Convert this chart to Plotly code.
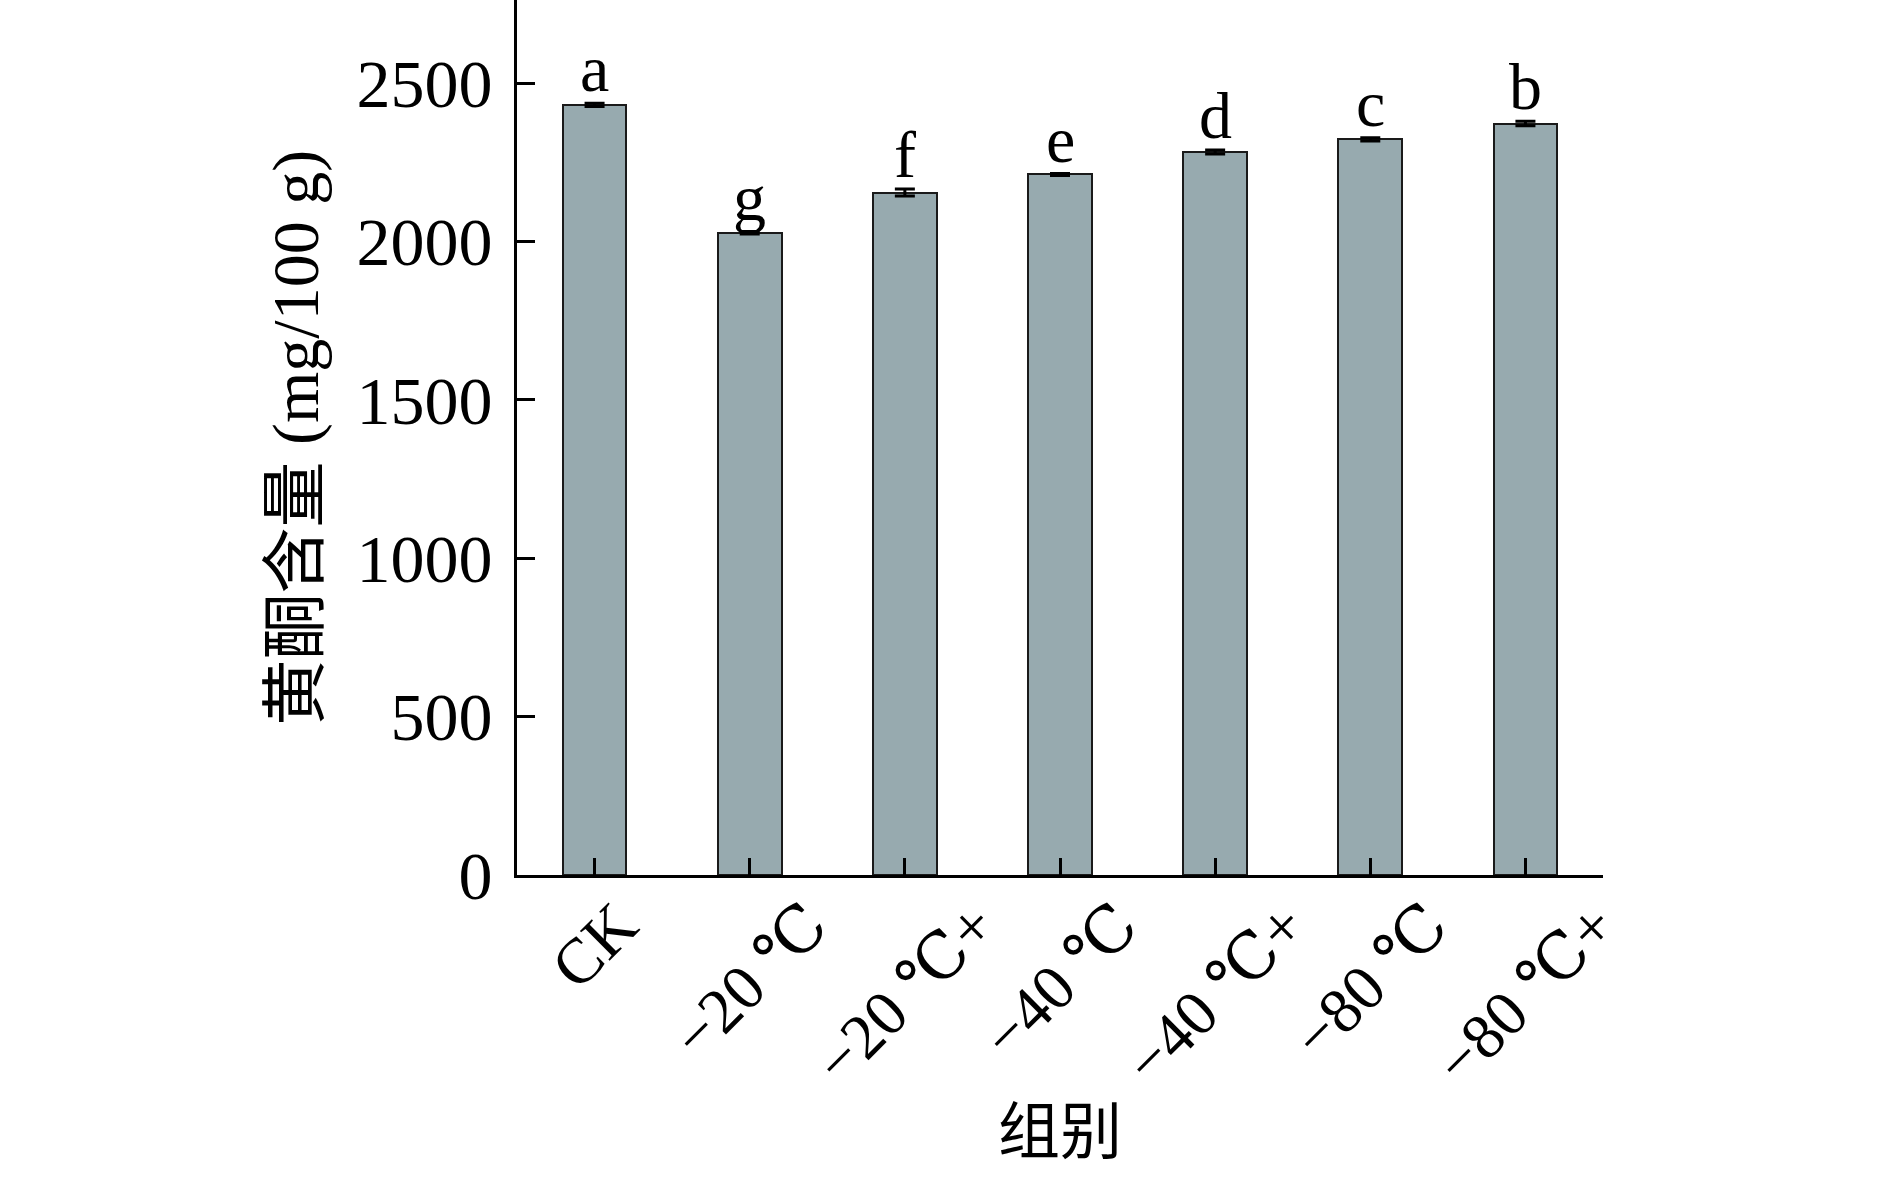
import plotly.graph_objects as go

categories = ["CK", "−20 ℃", "−20 ℃+", "−40 ℃", "−40 ℃+", "−80 ℃", "−80 ℃+"]
values = [2432, 2028, 2155, 2212, 2283, 2323, 2373]
errors = [5, 4, 11, 3, 6, 5, 7]
letters = ["a", "g", "f", "e", "d", "c", "b"]
y_ticks = [0, 500, 1000, 1500, 2000, 2500]

SERIF = "Liberation Serif, DejaVu Serif, Noto Sans CJK SC, serif"
CJK = "Liberation Serif, Noto Sans CJK SC, serif"

fig = go.Figure()
fig.add_trace(go.Bar(
    x=list(range(len(categories))),
    y=values,
    width=0.41,
    marker=dict(color="#97AAAF", line=dict(color="#1a1a1a", width=2)),
    error_y=dict(type="data", array=errors, visible=True, color="black", thickness=3, width=10),
    showlegend=False,
))

annotations = []
for i, (v, e, l) in enumerate(zip(values, errors, letters)):
    annotations.append(dict(
        x=i, y=v + e, xref="x", yref="y", text=l, showarrow=False,
        xanchor="center", yanchor="bottom", yshift=-4,
        font=dict(family=SERIF, size=66, color="black"),
    ))

# category labels, centred on each tick and rotated 45 degrees
for i, c in enumerate(categories):
    annotations.append(dict(
        x=i, y=-0.013, xref="x", yref="paper", text=c, showarrow=False,
        textangle=-45, xanchor="center", yanchor="top",
        font=dict(family=SERIF, size=64, color="black"),
    ))

annotations.append(dict(
    x=-0.2044, y=0.5, xref="paper", yref="paper", text="黄酮含量 (mg/100 g)",
    textangle=-90, showarrow=False, xanchor="center", yanchor="middle",
    font=dict(family=CJK, size=66, color="black"),
))
annotations.append(dict(
    x=0.5, y=-0.295, xref="paper", yref="paper", text="组别",
    showarrow=False, xanchor="center", yanchor="middle",
    font=dict(family=CJK, size=62, color="black"),
))

fig.update_layout(
    width=1890, height=1178,
    margin=dict(l=517, r=287, t=0, b=303, pad=0),
    paper_bgcolor="white", plot_bgcolor="white",
    font=dict(family=SERIF, size=65, color="black"),
    annotations=annotations,
    bargap=0,
)

fig.update_xaxes(
    range=[-0.5, len(categories) - 0.5],
    tickmode="array", tickvals=list(range(len(categories))),
    showticklabels=False,
    ticks="inside", ticklen=17, tickwidth=3, tickcolor="black",
    showline=True, linecolor="black", linewidth=3,
    showgrid=False, zeroline=False,
)
fig.update_yaxes(
    range=[0, 2763],
    tickmode="array", tickvals=y_ticks, ticktext=[str(t) for t in y_ticks],
    ticks="inside", ticklen=18, tickwidth=3, tickcolor="black",
    ticklabelstandoff=8,
    showline=True, linecolor="black", linewidth=3,
    showgrid=False, zeroline=False,
    tickfont=dict(family=SERIF, size=68, color="black"),
)

fig.write_html(
    "out.html",
    config={"displayModeBar": False},
    post_script="document.body.style.margin='0px';",
)
